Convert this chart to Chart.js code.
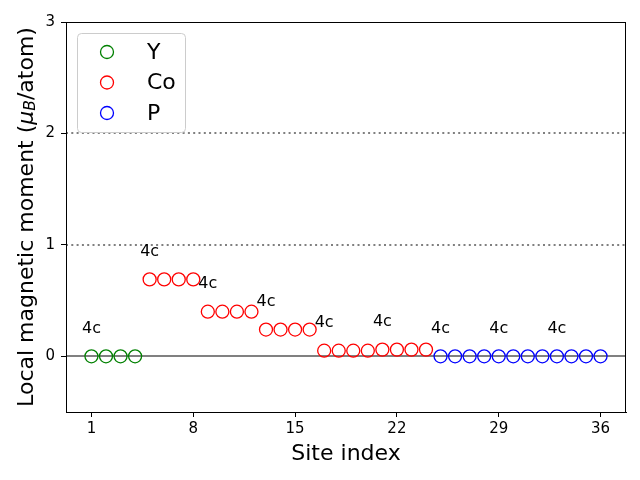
<!DOCTYPE html>
<html>
<head>
<meta charset="utf-8">
<script src="https://cdn.jsdelivr.net/npm/chart.js@4"></script>
<style>html,body{margin:0;padding:0;background:#fff}</style>
</head>
<body>
<canvas id="momentChart" width="640" height="480"></canvas>
<script>
// site moments
const ySites = [1, 2, 3, 4];
const yMoments = [0, 0, 0, 0];
const coSites = [5, 6, 7, 8, 9, 10, 11, 12, 13, 14, 15, 16, 17, 18, 19, 20, 21, 22, 23, 24];
const coMoments = [0.69, 0.69, 0.69, 0.69, 0.40, 0.40, 0.40, 0.40, 0.24, 0.24, 0.24, 0.24,
  0.05, 0.05, 0.05, 0.05, 0.06, 0.06, 0.06, 0.06];
const pSites = [25, 26, 27, 28, 29, 30, 31, 32, 33, 34, 35, 36];
const pMoments = [0, 0, 0, 0, 0, 0, 0, 0, 0, 0, 0, 0];

const xTicks = [1, 8, 15, 22, 29, 36];
const yTicks = [0, 1, 2, 3];
const wyckoffSites = [1, 5, 9, 13, 17, 21, 25, 29, 33];
const wyckoffLabels = ['4c', '4c', '4c', '4c', '4c', '4c', '4c', '4c', '4c'];
const dottedLevels = [1, 2];

const FONT = '"DejaVu Sans", sans-serif';

const toPoints = (xs, ys) => xs.map((x, i) => ({ x: x, y: ys[i] }));
const allSites = ySites.concat(coSites, pSites);
const allMoments = yMoments.concat(coMoments, pMoments);

// reference lines, wyckoff labels, frame, legend, axis titles
const decorations = {
  id: 'decorations',
  beforeDatasetsDraw(chart) {
    const { ctx, chartArea: a, scales: { y } } = chart;
    ctx.save();
    ctx.strokeStyle = '#808080';
    ctx.lineWidth = 2;
    dottedLevels.forEach(v => {
      const py = Math.round(y.getPixelForValue(v));
      ctx.setLineDash([2, 3.3]);
      ctx.beginPath();
      ctx.moveTo(a.left, py);
      ctx.lineTo(a.right, py);
      ctx.stroke();
    });
    ctx.setLineDash([]);
    const py0 = Math.round(y.getPixelForValue(0));
    ctx.beginPath();
    ctx.moveTo(a.left, py0);
    ctx.lineTo(a.right, py0);
    ctx.stroke();
    ctx.restore();
  },
  afterDraw(chart) {
    const { ctx, chartArea: a, scales: { x, y } } = chart;
    ctx.save();
    // labels above groups
    ctx.fillStyle = '#000';
    ctx.font = '16px ' + FONT;
    ctx.textAlign = 'center';
    ctx.textBaseline = 'middle';
    wyckoffSites.forEach((s, i) => {
      const m = allMoments[allSites.indexOf(s)];
      ctx.fillText(wyckoffLabels[i], x.getPixelForValue(s), y.getPixelForValue(m + 0.25));
    });

    // frame
    ctx.strokeStyle = '#000';
    ctx.lineWidth = 1;
    ctx.strokeRect(Math.round(a.left) + 0.5, Math.round(a.top) + 0.5,
      Math.round(a.right - a.left) - 1, Math.round(a.bottom - a.top));

    // legend
    const bx = 77.5, by = 33.5, bw = 108, bh = 99, r = 4;
    ctx.beginPath();
    ctx.moveTo(bx + r, by);
    ctx.arcTo(bx + bw, by, bx + bw, by + bh, r);
    ctx.arcTo(bx + bw, by + bh, bx, by + bh, r);
    ctx.arcTo(bx, by + bh, bx, by, r);
    ctx.arcTo(bx, by, bx + bw, by, r);
    ctx.closePath();
    ctx.fillStyle = 'rgba(255,255,255,0.8)';
    ctx.fill();
    ctx.strokeStyle = '#cccccc';
    ctx.stroke();
    ctx.font = '22px ' + FONT;
    ctx.textAlign = 'left';
    chart.data.datasets.forEach((ds, i) => {
      const ry = 52 + i * 30.5;
      ctx.beginPath();
      ctx.arc(107, ry, 6.5, 0, Math.PI * 2);
      ctx.strokeStyle = ds.borderColor;
      ctx.lineWidth = 1.3;
      ctx.stroke();
      ctx.fillStyle = '#000';
      ctx.fillText(ds.label, 147, ry + 1);
    });

    // x title
    ctx.font = '22px ' + FONT;
    ctx.textAlign = 'center';
    ctx.fillText('Site index', (a.left + a.right) / 2, 454);

    // y title with subscript
    ctx.translate(27, (a.top + a.bottom) / 2);
    ctx.rotate(-Math.PI / 2);
    const parts = [
      { t: 'Local magnetic moment (', f: '22px ' + FONT, dy: 0 },
      { t: 'μ', f: 'italic 22px ' + FONT, dy: 0 },
      { t: 'B', f: 'italic 15.5px ' + FONT, dy: 4 },
      { t: '/atom)', f: '22px ' + FONT, dy: 0 }
    ];
    let total = 0;
    parts.forEach(p => { ctx.font = p.f; p.w = ctx.measureText(p.t).width; total += p.w; });
    let cx = -total / 2;
    ctx.textAlign = 'left';
    parts.forEach(p => {
      ctx.font = p.f;
      ctx.fillText(p.t, cx, p.dy);
      cx += p.w;
    });
    ctx.restore();
  }
};

const pointStyle = color => ({
  borderColor: color,
  backgroundColor: 'rgba(0,0,0,0)',
  pointRadius: 6.5,
  pointHoverRadius: 6.5,
  borderWidth: 1.3,
  showLine: false
});

const ctxScatter = document.getElementById('momentChart').getContext('2d');
const momentChart = new Chart(ctxScatter, {
  type: 'scatter',
  data: {
    datasets: [
      Object.assign({ label: 'Y', data: toPoints(ySites, yMoments) }, pointStyle('#008000')),
      Object.assign({ label: 'Co', data: toPoints(coSites, coMoments) }, pointStyle('#ff0000')),
      Object.assign({ label: 'P', data: toPoints(pSites, pMoments) }, pointStyle('#0000ff'))
    ]
  },
  options: {
    responsive: false,
    animation: false,
    layout: { padding: { top: 22, right: 14, left: 0, bottom: 0 } },
    plugins: { legend: { display: false }, tooltip: { enabled: false } },
    scales: {
      x: {
        type: 'linear',
        min: -0.75,
        max: 37.75,
        afterBuildTicks: s => { s.ticks = xTicks.map(v => ({ value: v })); },
        afterFit: s => { s.height = 68; },
        ticks: { color: '#000', font: { family: FONT, size: 15 }, padding: 3, maxRotation: 0 },
        grid: { drawOnChartArea: false, tickLength: 5, color: '#000' },
        border: { color: '#000' }
      },
      y: {
        min: -0.5,
        max: 3,
        afterBuildTicks: s => { s.ticks = yTicks.map(v => ({ value: v })); },
        afterFit: s => { s.width = 66; },
        ticks: { color: '#000', font: { family: FONT, size: 15 }, padding: 6 },
        grid: { drawOnChartArea: false, tickLength: 5, color: '#000' },
        border: { color: '#000' }
      }
    }
  },
  plugins: [decorations]
});
</script>
</body>
</html>
